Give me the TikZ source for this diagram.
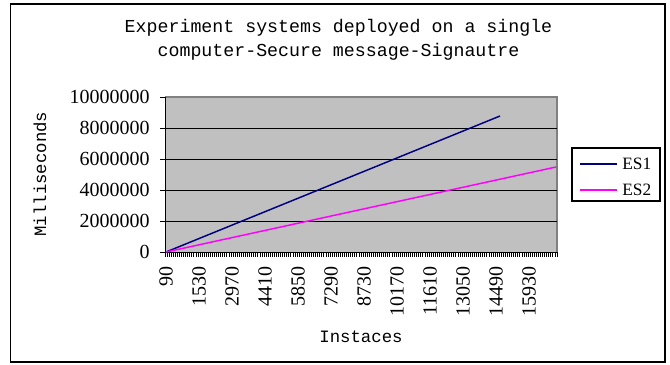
\documentclass[tikz,border=0pt]{standalone}
\usepackage{fontspec}
\setmainfont{Liberation Serif}
\newfontfamily\chartmono{Liberation Mono}

\definecolor{plotgray}{RGB}{192,192,192}
\definecolor{edgegray}{RGB}{128,128,128}
\definecolor{esnavy}{RGB}{0,0,128}
\definecolor{esmagenta}{RGB}{255,0,255}

\tikzset{
	ticklabel/.style={font=\fontsize{15}{15}\selectfont, inner sep=0pt},
	axistitle/.style={font=\chartmono\fontsize{13}{13}\selectfont, inner sep=0pt},
	grid line/.style={black, line width=0.75pt},
	series/.style={line width=1.1pt},
}

\begin{document}
\begin{tikzpicture}[x=0.75pt,y=-0.75pt]
\useasboundingbox (0,0) rectangle (670,364);
\draw[line width=1.4pt] (10.5,4) rectangle (665,362);
% title
\node[font=\chartmono\fontsize{13.7}{18}\selectfont, align=center] (title) at (338.5,40) {Experiment systems deployed on a single\\computer-Secure message-Signautre};
% plot area
\fill[plotgray] (165,97) rectangle (557,252);
\draw[edgegray, line width=1pt] (165,97) -- (557,97) -- (557,252);
\foreach \v in {2,4,6,8}
	\draw[grid line] (165,{252-15.5*\v}) -- (557,{252-15.5*\v});
\draw[grid line] (165,97) -- (165,252) -- (557,252);
% y axis
\foreach \v/\txt in {0/0,2/2000000,4/4000000,6/6000000,8/8000000,10/10000000}{
	\draw[grid line] (160,{252-15.5*\v}) -- (165,{252-15.5*\v});
	\node[ticklabel, anchor=east] (y\v) at (150,{252-15.5*\v}) {\txt};
}
% x axis
\foreach \i in {0,...,190}
	\draw[black, line width=0.6pt] ({165+\i*2.063},252) -- ({165+\i*2.063},257);
\foreach \k [count=\n from 0] in {90,1530,2970,4410,5850,7290,8730,10170,11610,13050,14490,15930}
	\node[ticklabel, rotate=90, anchor=east] (x\k) at ({165+2.063*(16*\n+0.5)},266) {\k};
\node[axistitle, rotate=90] (ytitle) at (40,174) {Milliseconds};
\node[axistitle] (xtitle) at (361,337) {Instaces};
% series
\coordinate (es1a) at (166,252);
\coordinate (es1b) at (500,116);
\coordinate (es2a) at (166,252);
\coordinate (es2b) at (556,167);
\draw[series, esnavy] (es1a) -- (es1b);
\draw[series, esmagenta] (es2a) -- (es2b);
% legend
\node[draw, line width=0.9pt, minimum width=66pt, minimum height=39.75pt, inner sep=0pt] (legend) at (616,174.5) {};
\coordinate (l1a) at (580,164);
\coordinate (l1b) at (617,164);
\coordinate (l2a) at (580,190);
\coordinate (l2b) at (617,190);
\draw[series, esnavy] (l1a) -- (l1b);
\draw[series, esmagenta] (l2a) -- (l2b);
\node[font=\fontsize{13}{13}\selectfont, anchor=west, inner sep=0pt] (es1) at (622,164) {ES1};
\node[font=\fontsize{13}{13}\selectfont, anchor=west, inner sep=0pt] (es2) at (622,190) {ES2};
\end{tikzpicture}
\end{document}
